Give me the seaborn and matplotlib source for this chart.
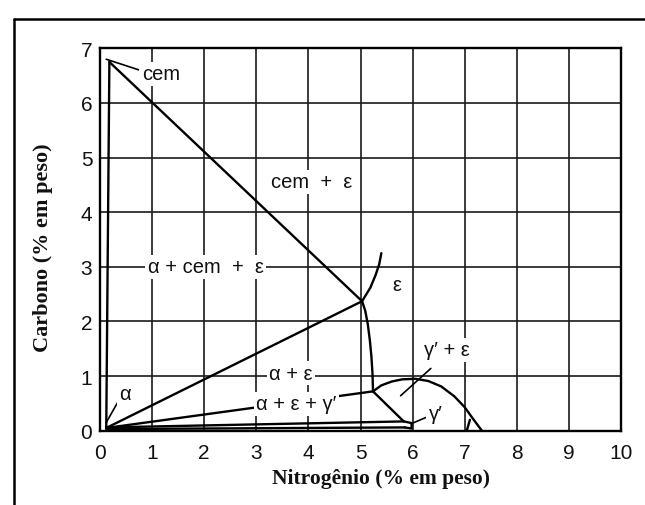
import matplotlib
matplotlib.use("Agg")
import matplotlib.pyplot as plt
from matplotlib.lines import Line2D
import pandas as pd
import seaborn as sns

# Isothermal section, Fe-rich corner: nitrogen (x) vs carbon (y), wt%
alpha_cem_N = [0.12, 0.18]
alpha_cem_C = [0.05, 6.75]
cem_eps_N = [0.18, 5.03]
cem_eps_C = [6.75, 2.37]
alpha_eps_hi_N = [0.12, 5.03]
alpha_eps_hi_C = [0.05, 2.37]
eps_left_N = [5.40, 5.36, 5.29, 5.19, 5.03, 5.09, 5.14, 5.18, 5.21, 5.23, 5.24]
eps_left_C = [3.25, 3.05, 2.85, 2.62, 2.37, 2.20, 1.95, 1.65, 1.35, 1.05, 0.72]
alpha_eps_lo_N = [0.12, 5.24]
alpha_eps_lo_C = [0.05, 0.72]
eps_gp_N = [5.24, 5.83]
eps_gp_C = [0.72, 0.17]
alpha_gp_hi_N = [0.12, 5.83]
alpha_gp_hi_C = [0.06, 0.17]
alpha_gp_lo_N = [0.12, 5.85]
alpha_gp_lo_C = [0.03, 0.06]
gp_field_N = [5.83, 5.98, 5.98, 5.85]
gp_field_C = [0.17, 0.14, 0.04, 0.06]
eps_dome_N = [5.24, 5.40, 5.60, 5.80, 6.05, 6.30, 6.55, 6.80, 7.00, 7.15, 7.33]
eps_dome_C = [0.72, 0.83, 0.90, 0.94, 0.95, 0.91, 0.81, 0.63, 0.43, 0.23, 0.00]
eps_wedge_N = [7.10, 7.04]
eps_wedge_C = [0.20, 0.00]

# Leader lines from labels to fields
lead_cem_N = [0.12, 0.76]
lead_cem_C = [6.80, 6.60]
lead_alpha_N = [0.34, 0.12]
lead_alpha_C = [0.52, 0.15]
lead_gpeps_N = [6.35, 5.77]
lead_gpeps_C = [1.14, 0.64]
lead_gp_N = [6.25, 5.98]
lead_gp_C = [0.24, 0.13]

# Field labels
label_text = ["cem", "cem  +  ε", "α + cem  +  ε", "ε", "α + ε", "α", "α + ε + γ′", "γ′ + ε", "γ′"]
label_N = [1.17, 4.07, 2.03, 5.70, 3.66, 0.48, 3.77, 6.66, 6.44]
label_C = [6.53, 4.56, 3.00, 2.68, 1.05, 0.69, 0.49, 1.48, 0.31]

x_ticks = list(range(0, 11))
y_ticks = list(range(0, 8))


def segments_frame(named):
    rows = []
    for name, (ns, cs) in named.items():
        for i, (n, c) in enumerate(zip(ns, cs)):
            rows.append({"seg": name, "order": i, "N": n, "C": c})
    return pd.DataFrame(rows)


boundaries = segments_frame({
    "alpha_cem": (alpha_cem_N, alpha_cem_C),
    "cem_eps": (cem_eps_N, cem_eps_C),
    "alpha_eps_hi": (alpha_eps_hi_N, alpha_eps_hi_C),
    "eps_left": (eps_left_N, eps_left_C),
    "alpha_eps_lo": (alpha_eps_lo_N, alpha_eps_lo_C),
    "eps_gp": (eps_gp_N, eps_gp_C),
    "alpha_gp_hi": (alpha_gp_hi_N, alpha_gp_hi_C),
    "alpha_gp_lo": (alpha_gp_lo_N, alpha_gp_lo_C),
    "gp_field": (gp_field_N, gp_field_C),
    "eps_dome": (eps_dome_N, eps_dome_C),
    "eps_wedge": (eps_wedge_N, eps_wedge_C),
})
leaders = segments_frame({
    "cem": (lead_cem_N, lead_cem_C),
    "alpha": (lead_alpha_N, lead_alpha_C),
    "gpeps": (lead_gpeps_N, lead_gpeps_C),
    "gp": (lead_gp_N, lead_gp_C),
})

sns.set_theme(style="white")
plt.rcParams["font.family"] = ["Liberation Sans", "DejaVu Sans"]

W, H = 645, 506
fig = plt.figure(figsize=(W / 100, H / 100), dpi=100)
fig.patch.set_facecolor("white")
ax = fig.add_axes([100 / W, 1 - 431.7 / H, 521 / W, (431.7 - 49.3) / H])

sns.lineplot(data=boundaries, x="N", y="C", units="seg", estimator=None, sort=False,
             color="black", linewidth=1.7, legend=False, ax=ax, zorder=2)
sns.lineplot(data=leaders, x="N", y="C", units="seg", estimator=None, sort=False,
             color="black", linewidth=1.2, legend=False, ax=ax, zorder=2)

for txt, n, c in zip(label_text, label_N, label_C):
    ax.text(n, c, txt, ha="center", va="center", fontsize=14.5, color="#111111", zorder=4,
            bbox=dict(boxstyle="square,pad=0.12", fc="white", ec="none"))

ax.set_xlim(0, 10)
ax.set_ylim(0, 7)
ax.set_xticks(x_ticks)
ax.set_yticks(y_ticks)
ax.grid(True, color="#1a1a1a", linewidth=1.2)
ax.set_axisbelow(True)
for sp in ax.spines.values():
    sp.set_visible(True)
    sp.set_color("black")
    sp.set_linewidth(1.7)
ax.tick_params(axis="both", which="major", direction="out", length=3.5, width=1.2,
               color="black", labelsize=15, labelcolor="#111111")
ax.tick_params(axis="x", pad=5)
ax.tick_params(axis="y", pad=2)

ax.set_xlabel("Nitrogênio (% em peso)", fontsize=15.5, fontweight="bold",
              family="Liberation Serif", color="#111111")
ax.set_ylabel("Carbono (% em peso)", fontsize=16, fontweight="bold",
              family="Liberation Serif", color="#111111")
ax.xaxis.set_label_coords((381 - 100) / 521, -(469 - 431.7) / (431.7 - 49.3))
ax.yaxis.set_label_coords(-(100 - 53) / 521, (431.7 - 248) / (431.7 - 49.3))

# Outer frame of the figure panel
fig.add_artist(Line2D([14 / W, 14 / W], [1 - 20 / H, 0], transform=fig.transFigure,
                      color="black", linewidth=1.8))
fig.add_artist(Line2D([14 / W, 1], [1 - 20 / H, 1 - 20 / H], transform=fig.transFigure,
                      color="black", linewidth=1.8))

fig.savefig("out.png", dpi=100, facecolor="white")
